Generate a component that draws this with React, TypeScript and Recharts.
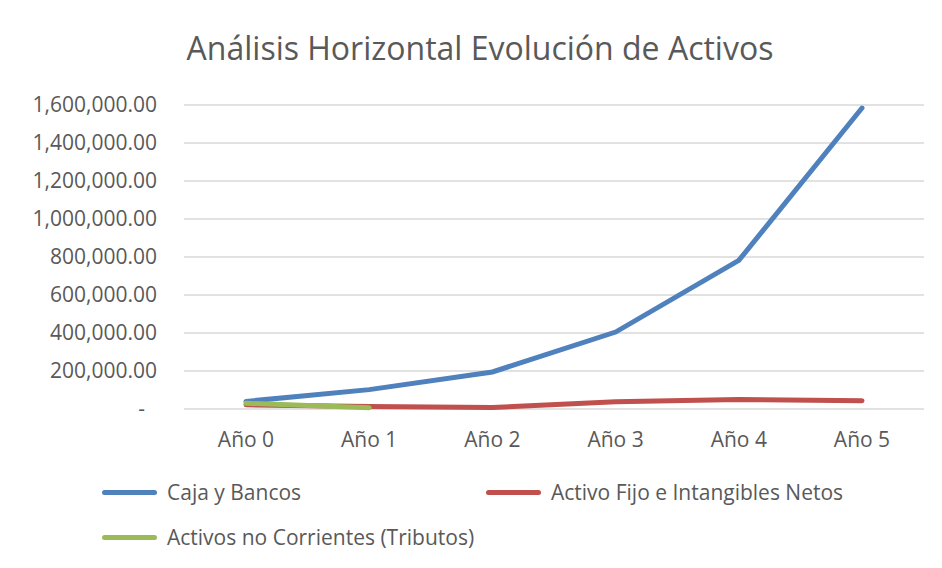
import { LineChart, Line, XAxis, YAxis, CartesianGrid, Legend } from "recharts";

const years = ["Año 0", "Año 1", "Año 2", "Año 3", "Año 4", "Año 5"];
const cajaBancos = [40000, 102000, 195000, 405000, 782000, 1584000];
const activoFijo = [22000, 13000, 8000, 38000, 50000, 44000];
const tributos = [30000, 6000];
const yTicks = [0, 200000, 400000, 600000, 800000, 1000000, 1200000, 1400000, 1600000];

const series = [
  { key: "caja", name: "Caja y Bancos", color: "#4F81BD" },
  { key: "fijo", name: "Activo Fijo e Intangibles Netos", color: "#C0504D" },
  { key: "trib", name: "Activos no Corrientes (Tributos)", color: "#9BBB59" },
];

const data = years.map((year, i) => ({
  year,
  caja: cajaBancos[i],
  fijo: activoFijo[i],
  trib: i < tributos.length ? tributos[i] : null,
}));

const FONT = "'Open Sans', sans-serif";
const TEXT = "#595959";
const FS = 21;

function YTick({ x, y, payload }: any) {
  const v = payload.value as number;
  const label =
    v === 0
      ? "-"
      : v.toLocaleString("en-US", { minimumFractionDigits: 2, maximumFractionDigits: 2 });
  return (
    <text x={v === 0 ? x - 12 : x} y={y} dy={7} textAnchor="end" fill={TEXT} fontSize={FS} fontFamily={FONT}>
      {label}
    </text>
  );
}

function LegendBox() {
  const pos = [
    { left: 102, top: 0 },
    { left: 486, top: 0 },
    { left: 102, top: 45 },
  ];
  return (
    <div style={{ position: "relative", width: 942, height: 90 }}>
      {series.map((s, i) => (
        <div
          key={s.key}
          style={{
            position: "absolute",
            left: pos[i].left,
            top: pos[i].top,
            display: "flex",
            alignItems: "center",
            height: 26,
          }}
        >
          <span style={{ width: 55, height: 5, borderRadius: 3, background: s.color, display: "inline-block" }} />
          <span style={{ marginLeft: 10, fontSize: FS, color: TEXT, fontFamily: FONT, whiteSpace: "nowrap" }}>
            {s.name}
          </span>
        </div>
      ))}
    </div>
  );
}

export default function App() {
  return (
    <div style={{ position: "relative", width: 942, height: 568, margin: -8, overflow: "hidden", background: "#fff" }}>
      <div
        style={{
          position: "absolute",
          left: 5,
          top: 5,
          width: 960,
          height: 600,
          border: "2px solid #d9d9d9",
        }}
      />
      <div
        style={{
          position: "absolute",
          left: 0,
          width: 960,
          top: 26,
          textAlign: "center",
          fontFamily: FONT,
          fontSize: 32,
          color: TEXT,
        }}
      >
        Análisis Horizontal Evolución de Activos
      </div>
      <div style={{ position: "absolute", left: 0, top: 0 }}>
        <LineChart width={942} height={568} data={data} margin={{ top: 105, right: 18, left: 14, bottom: 39 }}>
          <CartesianGrid vertical={false} stroke="#d9d9d9" strokeWidth={1.5} />
          <XAxis
            dataKey="year"
            axisLine={false}
            tickLine={false}
            padding={{ left: 62, right: 62 }}
            tick={{ fontSize: FS, fill: TEXT, fontFamily: FONT }}
            tickMargin={17}
            height={30}
          />
          <YAxis
            width={170}
            domain={[0, 1600000]}
            ticks={yTicks}
            axisLine={false}
            tickLine={false}
            tick={<YTick />}
            tickMargin={21}
            interval={0}
          />
          <Legend
            verticalAlign="bottom"
            wrapperStyle={{ position: "absolute", left: 0, top: 479, width: 942, height: 90 }}
            content={() => <LegendBox />}
          />
          {series.map((s) => (
            <Line
              key={s.key}
              type="linear"
              dataKey={s.key}
              name={s.name}
              stroke={s.color}
              strokeWidth={5}
              strokeLinecap="round"
              dot={false}
              activeDot={false}
              isAnimationActive={false}
            />
          ))}
        </LineChart>
      </div>
    </div>
  );
}
